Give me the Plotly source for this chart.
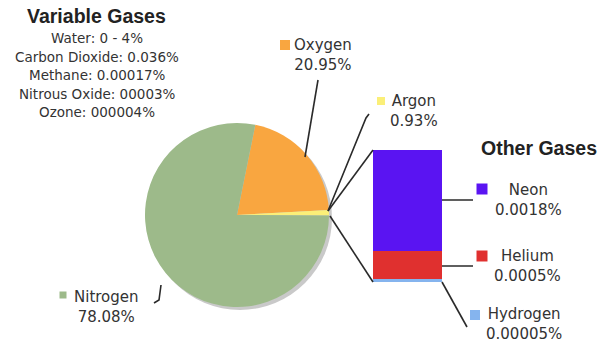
import plotly.graph_objects as go

W, H = 616, 345

# ---- data ----
main_labels = ["Oxygen", "Argon", "Nitrogen"]
main_values = [20.95, 0.93, 78.08]
main_text = ["20.95%", "0.93%", "78.08%"]
main_colors = ["#F9A640", "#FBEF78", "#9DBA8A"]

other_labels = ["Hydrogen", "Helium", "Neon"]
other_values = [0.00005, 0.0005, 0.0018]
other_text = ["0.00005%", "0.0005%", "0.0018%"]
other_colors = ["#85B4EE", "#E0302F", "#5A14F2"]

variable_title = "Variable Gases"
variable_lines = ["Water: 0 - 4%", "Carbon Dioxide: 0.036%", "Methane: 0.00017%",
                  "Nitrous Oxide: 00003%", "Ozone: 000004%"]
other_title = "Other Gases"


def px(x, y):
    return x / W, 1 - y / H


# layout geometry (pixels)
pie_cx, pie_cy, pie_r = 237, 215, 92
bar_x0, bar_x1, bar_y0, bar_y1 = 373, 442, 150, 282

fig = go.Figure()

fig.add_trace(go.Pie(
    labels=main_labels, values=main_values, sort=False, direction="clockwise",
    rotation=11.5, marker=dict(colors=main_colors, line=dict(width=0)),
    textinfo="none", hoverinfo="label+percent", showlegend=False,
    domain=dict(x=[(pie_cx - pie_r) / W, (pie_cx + pie_r) / W],
                y=[1 - (pie_cy + pie_r) / H, 1 - (pie_cy - pie_r) / H]),
))

for lab, val, col in zip(other_labels, other_values, other_colors):
    fig.add_trace(go.Bar(x=["Other"], y=[val], name=lab, marker=dict(color=col, line=dict(width=0)),
                         width=1, showlegend=False, xaxis="x", yaxis="y"))

total_other = sum(other_values)

shapes = []
# pie shadow
sx0, sy0 = px(pie_cx - pie_r + 3, pie_cy + pie_r + 3)
sx1, sy1 = px(pie_cx + pie_r + 3, pie_cy - pie_r + 3)
shapes.append(dict(type="circle", xref="paper", yref="paper", x0=sx0, x1=sx1, y0=sy0, y1=sy1,
                   fillcolor="#c9c9c9", line=dict(width=0), layer="below"))

def seg(points, width=1.6):
    path = "M " + " L ".join(f"{px(x, y)[0]:.5f},{px(x, y)[1]:.5f}" for x, y in points)
    shapes.append(dict(type="path", xref="paper", yref="paper", path=path,
                       line=dict(color="#2a2a2a", width=width)))

seg([(305, 157), (318, 80)])
seg([(328, 211), (366, 118), (369, 114)])
seg([(328, 211), (bar_x0, bar_y0)])
seg([(330, 216), (bar_x0, bar_y1)])
seg([(bar_x1, 200), (473, 200)])
seg([(bar_x1, 266), (473, 266)])
seg([(bar_x1, bar_y1), (467, 327)])
seg([(161, 285), (159, 300), (154, 303)])

# legend squares
squares = [(285, 45, 10, main_colors[0]), (381, 101, 8, main_colors[1]), (63, 295, 7, main_colors[2]),
           (482, 189, 11, other_colors[2]), (482, 256, 11, other_colors[1]), (475, 315, 10, other_colors[0])]
for cx, cy, s, c in squares:
    x0, y0 = px(cx - s / 2, cy + s / 2)
    x1, y1 = px(cx + s / 2, cy - s / 2)
    shapes.append(dict(type="rect", xref="paper", yref="paper", x0=x0, x1=x1, y0=y0, y1=y1,
                       fillcolor=c, line=dict(width=0)))

annotations = []
lab_font = dict(family="DejaVu Sans", size=15, color="#333333")

def label(name, value, cx, cy):
    x, y = px(cx, cy)
    annotations.append(dict(text=f"{name}<br>{value}", x=x, y=y, xref="paper", yref="paper",
                            showarrow=False, xanchor="center", yanchor="middle", align="center",
                            font=lab_font))

label(main_labels[0], main_text[0], 323, 55)
label(main_labels[1], main_text[1], 414, 111)
label(main_labels[2], main_text[2], 106, 307)
label(other_labels[2], other_text[2], 528, 200)
label(other_labels[1], other_text[1], 527, 266)
label(other_labels[0], other_text[0], 524, 324)

x, y = px(96, 16)
annotations.append(dict(text=variable_title, x=x, y=y, xref="paper", yref="paper", showarrow=False,
                        xanchor="center", yanchor="middle",
                        font=dict(family="Liberation Sans", size=19.5, color="#222222", weight="bold")))
x, y = px(539, 148)
annotations.append(dict(text=other_title, x=x, y=y, xref="paper", yref="paper", showarrow=False,
                        xanchor="center", yanchor="middle",
                        font=dict(family="Liberation Sans", size=19.5, color="#222222", weight="bold")))
for i, t in enumerate(variable_lines):
    x, y = px(97, 38 + i * 18.5)
    annotations.append(dict(text=t, x=x, y=y, xref="paper", yref="paper", showarrow=False,
                            xanchor="center", yanchor="middle",
                            font=dict(family="DejaVu Sans", size=13.5, color="#333333")))

fig.update_layout(
    width=W, height=H, margin=dict(l=0, r=0, t=0, b=0),
    paper_bgcolor="white", plot_bgcolor="white",
    barmode="stack", bargap=0,
    xaxis=dict(domain=[bar_x0 / W, bar_x1 / W], range=[-0.5, 0.5], visible=False, fixedrange=True),
    yaxis=dict(domain=[1 - bar_y1 / H, 1 - bar_y0 / H], range=[0, total_other], visible=False,
               fixedrange=True),
    shapes=shapes, annotations=annotations, showlegend=False,
)

fig.write_html("out.html")
